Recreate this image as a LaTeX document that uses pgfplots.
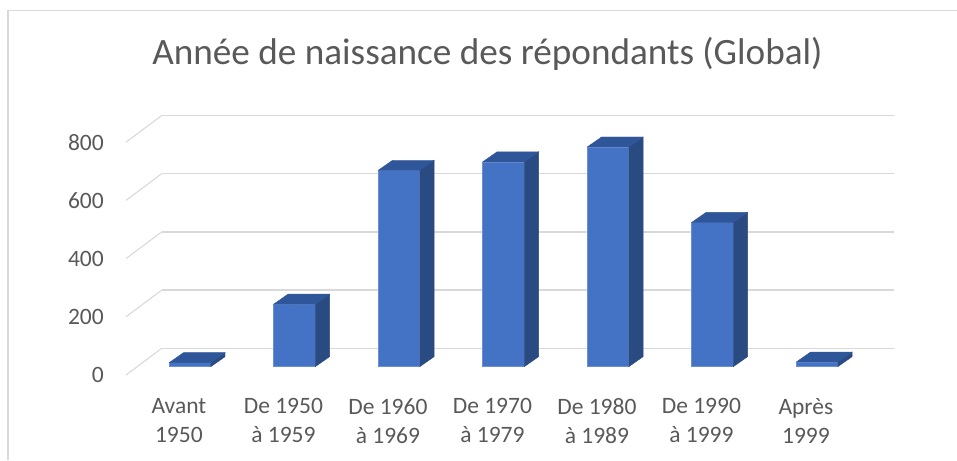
\documentclass[border=0pt]{standalone}
\usepackage{pgfplots}
\pgfplotsset{compat=1.18}
\usepackage{pgfplotstable}
\usepackage{fontspec}
\setmainfont{Carlito}
\definecolor{txt}{HTML}{595959}
\definecolor{gridc}{HTML}{D9D9D9}
\definecolor{frontc}{HTML}{4472C4}
\definecolor{topc}{HTML}{30569A}
\definecolor{sidec}{HTML}{2A4A82}
\definecolor{edgec}{HTML}{6A8FD6}

\pgfplotstableread{
x v
0 14
1 215
2 675
3 704
4 755
5 496
6 16
}\datatable

\begin{document}
\begin{tikzpicture}
\useasboundingbox (-137.1pt,-93.3pt) rectangle (819.9pt,366.7pt);
\draw[gridc, line width=1.2pt] (-129.1pt,-93.3pt) -- (-129.1pt,356.2pt) -- (819.9pt,356.2pt);
\begin{axis}[
  at={(0pt,0pt)}, anchor=south west,
  x=104.5pt, y=0.291pt,
  xmin=-0.5062, xmax=6.504, ymin=0, ymax=800,
  enlargelimits=false, clip=false,
  axis line style={draw=none}, tick style={draw=none}, major tick length=0pt,
  ytick={0,200,400,600,800},
  /pgf/number format/assume math mode=true,
  yticklabel style={anchor=east, inner sep=0pt, xshift=-33.1pt, yshift=-8.3pt,
    font=\fontsize{23.5}{29}\selectfont, text=txt},
  xtick={0,1,2,3,4,5,6},
  xticklabels={{Avant\\1950},{De 1950\\à 1959},{De 1960\\à 1969},{De 1970\\à 1979},{De 1980\\à 1989},{De 1990\\à 1999},{Après\\1999}},
  xticklabel style={anchor=north, align=center, inner sep=0pt, xshift=-11.1pt, yshift=-31.8pt,
    font=\fontsize{23.5}{29}\selectfont, text=txt},
  title={Année de naissance des répondants (Global)},
  title style={at={(0.5,1)}, anchor=base, inner sep=0pt, xshift=-15.9pt, yshift=62.9pt,
    font=\fontsize{37.2}{44}\selectfont, text=txt},
]
% back wall grid lines
\addplot[gridc, line width=1.4pt] coordinates {(-0.2708,63.2) (6.7394,63.2)};
\addplot[gridc, line width=1.4pt] coordinates {(-0.2708,263.2) (6.7394,263.2)};
\addplot[gridc, line width=1.4pt] coordinates {(-0.2708,463.2) (6.7394,463.2)};
\addplot[gridc, line width=1.4pt] coordinates {(-0.2708,663.2) (6.7394,663.2)};
\addplot[gridc, line width=1.4pt] coordinates {(-0.2708,863.2) (6.7394,863.2)};
% floor/side diagonals
\addplot[gridc, line width=1.1pt] coordinates {(-0.6124,-28.5) (-0.2708,63.2)};
\addplot[gridc, line width=1.1pt] coordinates {(-0.6124,171.5) (-0.2708,263.2)};
\addplot[gridc, line width=1.1pt] coordinates {(-0.6124,371.5) (-0.2708,463.2)};
\addplot[gridc, line width=1.1pt] coordinates {(-0.6124,571.5) (-0.2708,663.2)};
\addplot[gridc, line width=1.1pt] coordinates {(-0.6124,771.5) (-0.2708,863.2)};
% top and side faces of the 3D bars
\addplot[scatter, only marks, mark=*, mark size=0pt, mark options={draw=none, fill=none},
  visualization depends on={\thisrow{v}*0.291 \as \hh},
  scatter/@pre marker code/.code={%
    \fill[sidec] (20.75pt,0pt) -- (35.05pt,10pt) -- ({35.05pt},{10pt-\hh pt}) -- ({20.75pt},{-\hh pt}) -- cycle;
    \fill[topc] (-20.75pt,0pt) -- (-6.45pt,10pt) -- (35.05pt,10pt) -- (20.75pt,0pt) -- cycle;
  },
  scatter/@post marker code/.code={}
] table[x=x, y=v] {\datatable};
% front faces
\addplot[ybar, bar width=41.5pt, bar shift=0pt, fill=frontc, draw=edgec, line width=0.6pt]
  table[x=x, y=v] {\datatable};
\end{axis}
\end{tikzpicture}
\end{document}
